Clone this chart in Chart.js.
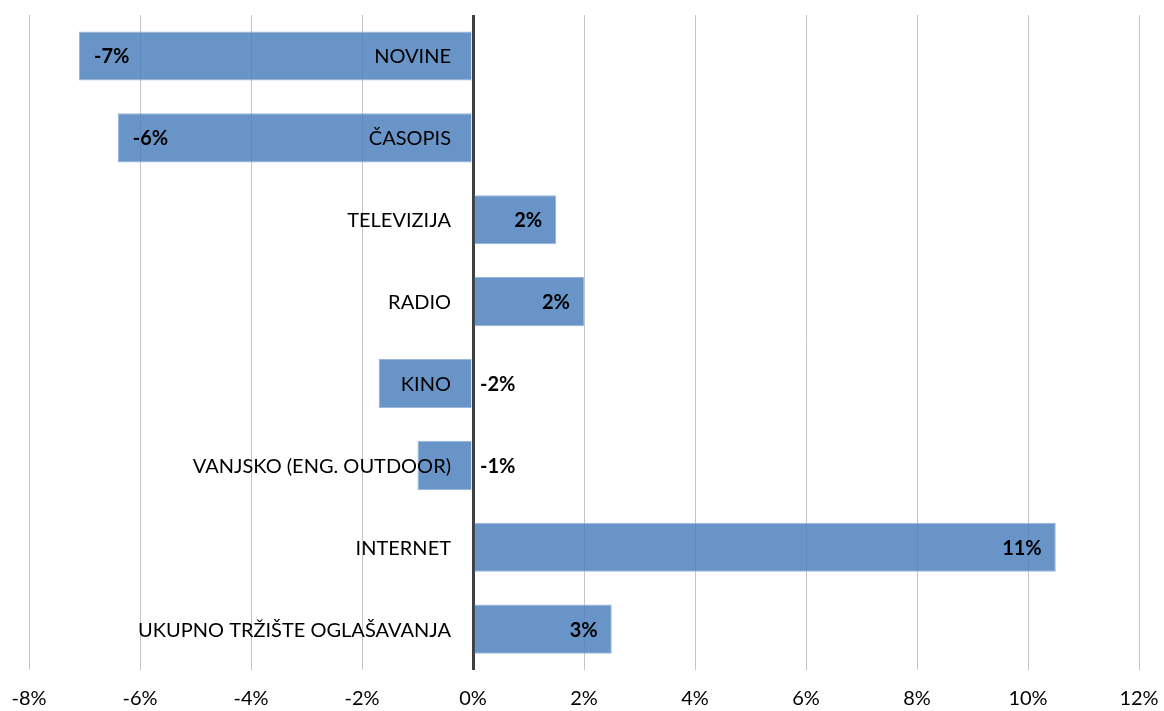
<!DOCTYPE html>
<html>
<head>
<meta charset="utf-8">
<script src="https://cdn.jsdelivr.net/npm/chart.js@4.4.1/dist/chart.umd.min.js"></script>
<style>
  html, body { margin: 0; padding: 0; background: #fff; }
  .chart-wrapper { width: 1164px; height: 711px; }
</style>
</head>
<body>
<div class="chart-wrapper"><canvas id="mediaChart"></canvas></div>
<script>
const categories = ['NOVINE', 'ČASOPIS', 'TELEVIZIJA', 'RADIO', 'KINO', 'VANJSKO (ENG. OUTDOOR)', 'INTERNET', 'UKUPNO TRŽIŠTE OGLAŠAVANJA'];
const changes = [-7.1, -6.4, 1.5, 2.0, -1.7, -1.0, 10.5, 2.5];
const valueLabels = ['-7%', '-6%', '2%', '2%', '-2%', '-1%', '11%', '3%'];
const xTicks = [-8, -6, -4, -2, 0, 2, 4, 6, 8, 10, 12];

const FONT = 'Lato, "Liberation Sans", sans-serif';

// category names next to the zero line, value labels on the bars
const labelPlugin = {
  id: 'barLabels',
  afterDatasetsDraw(chart) {
    const ctx = chart.ctx;
    const x = chart.scales.x;
    const zero = x.getPixelForValue(0);
    const meta = chart.getDatasetMeta(0);
    ctx.save();
    ctx.textBaseline = 'middle';
    meta.data.forEach((bar, i) => {
      const y = bar.y + 1;
      ctx.fillStyle = '#000';
      ctx.font = '20px ' + FONT;
      ctx.textAlign = 'right';
      ctx.fillText(categories[i], zero - 22, y);

      ctx.font = 'bold 20px ' + FONT;
      const v = changes[i];
      if (v >= 0) {
        ctx.textAlign = 'right';
        ctx.fillText(valueLabels[i], bar.x - 14, y);
      } else if (v < -3) {
        ctx.textAlign = 'left';
        ctx.fillText(valueLabels[i], bar.x + 15, y);
      } else {
        ctx.textAlign = 'left';
        ctx.fillText(valueLabels[i], zero + 7, y);
      }
    });
    ctx.restore();
  }
};

new Chart(document.getElementById('mediaChart'), {
  type: 'bar',
  data: {
    labels: categories,
    datasets: [{
      data: changes,
      backgroundColor: 'rgba(79,129,189,0.85)',
      borderColor: 'rgba(150,182,222,1)',
      borderWidth: 1,
      barPercentage: 0.6,
      categoryPercentage: 1.0
    }]
  },
  options: {
    indexAxis: 'y',
    responsive: true,
    maintainAspectRatio: false,
    animation: false,
    layout: { padding: { top: 15, left: 29, right: 25, bottom: 0 } },
    plugins: {
      legend: { display: false },
      tooltip: { enabled: false }
    },
    scales: {
      x: {
        min: -8,
        max: 12,
        afterBuildTicks(axis) {
          axis.ticks = xTicks.map(v => ({ value: v }));
        },
        afterFit(axis) {
          axis.height = 41;
          axis.paddingLeft = 0;
          axis.paddingRight = 0;
        },
        ticks: {
          callback: v => v + '%',
          font: { family: FONT, size: 20 },
          color: '#000',
          padding: 17,
          maxRotation: 0
        },
        grid: {
          color: ctx => ctx.tick && ctx.tick.value === 0 ? '#404040' : '#c4c4c4',
          lineWidth: ctx => ctx.tick && ctx.tick.value === 0 ? 3 : 1,
          drawTicks: false
        },
        border: { display: false }
      },
      y: {
        display: false,
        grid: { display: false }
      }
    }
  },
  plugins: [labelPlugin]
});
</script>
</body>
</html>
